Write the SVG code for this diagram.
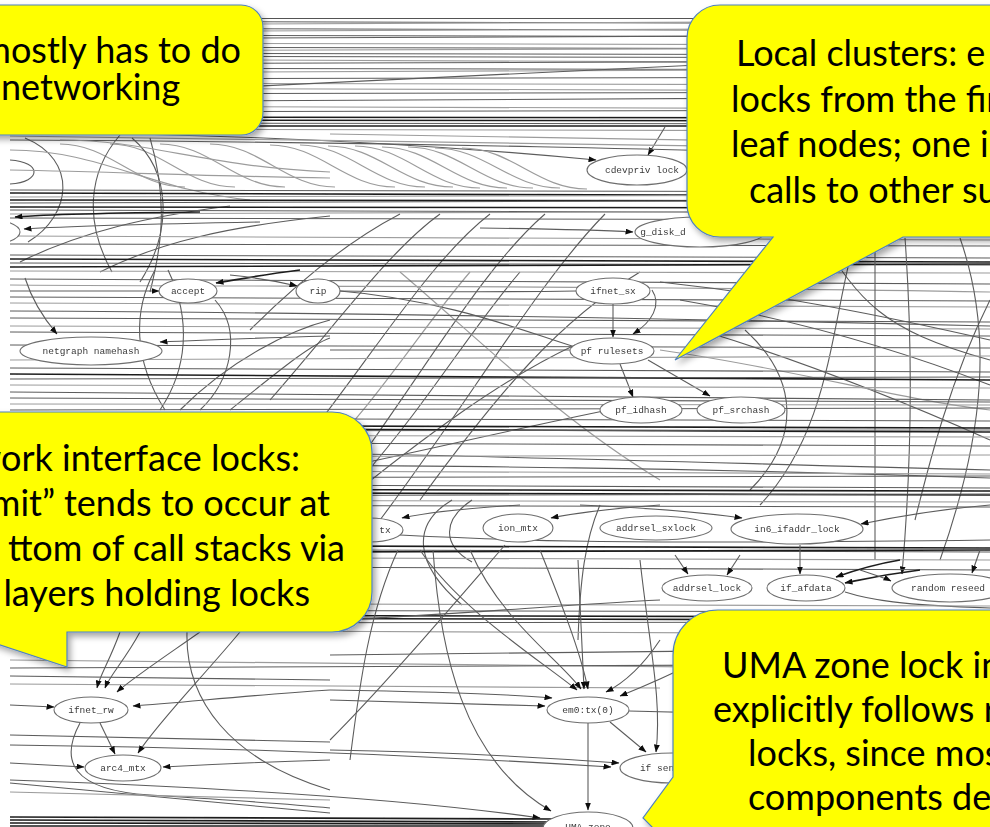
<svg xmlns="http://www.w3.org/2000/svg" width="990" height="827" viewBox="0 0 990 827">
<style>
  .e{fill:none;stroke:#5c5c5c;stroke-width:1.1}
  .l{fill:none;stroke:#9c9c9c;stroke-width:1.2}
  .d{fill:none;stroke:#1e1e1e;stroke-width:1.7}
  .a{marker-end:url(#ah)}
  .n ellipse{fill:#fff;stroke:#6e6e6e;stroke-width:1.1}
  .n text{font-family:"Liberation Mono","DejaVu Sans Mono",monospace;font-size:9.5px;fill:#3a3a3a;text-anchor:middle}
  .co{fill:#ffff00;stroke:#4f81bd;stroke-width:1.2}
  .ct{font-family:Lato,"Open Sans",sans-serif;font-size:36px;fill:#000}
</style>
<defs>
  <marker id="ah" markerWidth="8" markerHeight="6" refX="7.5" refY="3" orient="auto" markerUnits="userSpaceOnUse">
    <path d="M0,0L8,3L0,6z" fill="#111"/>
  </marker>
  <clipPath id="gc"><rect x="10" y="17" width="980" height="810"/></clipPath>
  <filter id="soft" x="0" y="0" width="100%" height="100%"><feGaussianBlur stdDeviation="0.45"/></filter>
  <filter id="sh" x="-10%" y="-10%" width="130%" height="140%">
    <feDropShadow dx="3" dy="4" stdDeviation="3" flood-color="#000" flood-opacity="0.35"/>
  </filter>
</defs>

<rect width="990" height="827" fill="#fff"/>

<g clip-path="url(#gc)">
<g filter="url(#soft)">
<!-- call-graph edges -->
<g id="edges">
  <!-- upper band of long edges -->
  <path class="d" d="M10,18H990"/>
  <path class="e" d="M10,21L990,24"/>
  <path class="l" d="M10,25L990,21"/>
  <path class="e" d="M10,28L990,31"/>
  <path class="l" d="M10,32L990,28"/>
  <path class="e" d="M10,35L990,37"/>
  <path class="e" d="M10,39L990,35"/>
  <path class="l" d="M10,43L990,45"/>
  <path class="e" d="M10,47L990,49"/>
  <path class="l" d="M10,51L990,48"/>
  <path class="e" d="M10,53L990,55"/>
  <path class="e" d="M10,56L990,58"/>
  <path class="l" d="M10,59L990,63"/>
  <path class="e" d="M10,64L990,61"/>
  <path class="e" d="M10,68L990,70"/>
  <path class="l" d="M10,73L990,69"/>
  <path class="e" d="M10,79L990,77"/>
  <path class="l" d="M10,83L990,85"/>
  <path class="e" d="M10,98L990,51"/>
  <path class="l" d="M10,88L990,91"/>
  <path class="e" d="M10,94L990,92"/>
  <path class="e" d="M10,102L990,97"/>
  <path class="l" d="M10,106L990,109"/>
  <path class="e" d="M10,112L990,110"/>
  <path class="d" d="M10,117L990,118"/>
  <path class="d" d="M10,120L990,121"/>
  <path class="e" d="M10,123L990,124"/>
  <path class="d" d="M10,126H990"/>
  <path class="l" d="M10,129L990,131"/>

  <!-- into cdevpriv lock -->
  <path class="e a" d="M10,132C250,134 450,146 596,160"/>
  <path class="e a" d="M665,127L648,155"/>
  <path class="l" d="M10,136L990,150"/>
  <path class="e" d="M10,140C400,142 700,150 990,158"/>
  <path class="l" d="M330,134C500,136 800,142 990,146"/>

  <!-- family of S-shaped edges -->
  <path class="l" d="M60,144C110,144 135,187 185,187"/>
  <path class="l" d="M110,144C160,144 185,187 235,187"/>
  <path class="l" d="M160,144C210,144 235,187 285,187"/>
  <path class="l" d="M210,144C260,144 285,187 335,187"/>
  <path class="l" d="M270,145C320,145 345,187 395,187"/>
  <path class="l" d="M300,145C350,145 375,187 425,187"/>
  <path class="l" d="M328,146C378,146 403,187 453,187"/>
  <path class="l" d="M355,146C405,146 430,188 480,188"/>
  <path class="l" d="M382,147C432,147 457,188 507,188"/>
  <path class="l" d="M408,147C458,147 483,188 533,188"/>
  <path class="l" d="M435,148C485,148 510,188 560,188"/>
  <path class="l" d="M462,148C512,148 537,189 587,189"/>

  <!-- left-hand arcs -->
  <path class="e" d="M10,160C42,162 42,182 10,184"/>
  <path class="e" d="M25,138C78,160 72,215 28,242"/>
  <path class="e" d="M120,135C88,172 84,222 112,272"/>
  <path class="e" d="M132,138C172,172 172,232 140,282"/>
  <path class="e" d="M150,138C168,200 162,245 150,292"/>
  <path class="l" d="M10,150C100,150 150,190 250,200"/>
  <path class="l" d="M60,140C150,140 200,166 330,172"/>
  <path class="e" d="M20,262C80,232 150,216 230,206"/>
  <path class="e" d="M100,272C160,242 230,226 330,216"/>
  <path class="l" d="M10,170C120,172 200,176 330,178"/>

  <!-- middle band -->
  <path class="e" d="M10,190L990,192"/>
  <path class="d" d="M10,193L990,196"/>
  <path class="l" d="M10,197L990,195"/>
  <path class="d" d="M10,200L990,201"/>
  <path class="e" d="M10,203L990,200"/>
  <path class="d" d="M10,207L990,208"/>
  <path class="e" d="M10,210L990,213"/>
  <path class="l" d="M10,214L990,211"/>
  <path class="e" d="M10,218L990,220"/>

  <!-- into the node cut at the left margin and into g_disk -->
  <path class="e a" d="M260,222C150,224 70,226 24,229"/>
  <path class="d a" d="M200,212C100,213 40,215 15,217"/>
  <path class="e a" d="M480,228C560,229 600,230 633,232"/>
  <path class="l" d="M10,236L990,240"/>
  <path class="e" d="M10,244L990,246"/>

  <!-- long rising diagonals -->
  <path class="e" d="M250,330C300,280 350,240 400,214"/>
  <path class="e" d="M270,400C340,320 390,250 440,214"/>
  <path class="e" d="M290,460C370,360 430,260 490,214"/>
  <path class="e" d="M330,500C420,380 480,270 545,214"/>
  <path class="e" d="M380,520C470,400 540,280 605,214"/>
  <path class="e" d="M420,500C500,390 560,320 640,272"/>
  <path class="e" d="M340,505C420,440 500,380 575,345"/>
  <path class="e" d="M360,480C430,400 470,330 520,272"/>
  <path class="l" d="M300,480C380,400 420,330 470,272"/>
  <path class="e" d="M330,290C450,300 520,330 572,346"/>
  <path class="e" d="M330,350H570"/>
  <path class="e" d="M330,470C430,450 550,420 660,400"/>
  <path class="l" d="M400,272C480,340 560,420 660,480"/>

  <!-- band above the accept row -->
  <path class="e" d="M10,255L990,258"/>
  <path class="d" d="M10,259L990,262"/>
  <path class="e" d="M10,263L990,265"/>
  <path class="d" d="M10,267L990,264"/>
  <path class="l" d="M10,271L990,273"/>

  <!-- accept / rip / ifnet_sx row -->
  <path class="e" d="M10,279L990,284"/>
  <path class="l" d="M10,285C300,287 600,285 990,292"/>
  <path class="e" d="M10,297L990,301"/>
  <path class="l" d="M10,303L990,307"/>
  <path class="e" d="M10,311C400,313 700,319 990,326"/>
  <path class="e" d="M10,318L990,322"/>
  <path class="l" d="M10,326L990,329"/>
  <path class="e" d="M10,332L990,336"/>
  <path class="e a" d="M10,291H159"/>
  <path class="d a" d="M300,270C260,275 235,280 216,283"/>
  <path class="e a" d="M230,275C260,278 280,282 297,286"/>
  <path class="e" d="M340,291C450,292 520,292 576,291"/>
  <path class="e a" d="M613,304V337"/>
  <path class="e a" d="M652,290C662,305 652,322 633,334"/>
  <path class="e a" d="M620,364L633,397"/>
  <path class="e a" d="M648,360L710,396"/>

  <!-- around netgraph namehash -->
  <path class="e a" d="M25,278C32,300 45,320 57,334"/>
  <path class="e a" d="M330,336C260,338 200,340 160,342"/>
  <path class="e" d="M155,270C133,310 133,360 165,410"/>
  <path class="e" d="M168,270C192,320 187,370 160,410"/>
  <path class="e" d="M215,300C242,330 232,380 200,410"/>
  <path class="e" d="M180,410C230,360 290,330 330,320"/>
  <path class="e" d="M230,410C280,370 310,345 330,338"/>

  <!-- right side, upper part -->
  <path class="e" d="M660,282C780,295 880,315 990,340"/>
  <path class="e" d="M680,300C800,320 900,350 990,385"/>
  <path class="e" d="M700,330C800,360 900,400 990,440"/>
  <path class="l" d="M660,350C800,370 900,400 990,410"/>
  <path class="e" d="M875,238V560"/>
  <path class="e a" d="M905,238C913,350 912,460 902,574"/>
  <path class="e" d="M745,330C800,380 800,440 750,490"/>
  <path class="e" d="M855,238C830,330 830,430 760,505"/>
  <path class="e" d="M960,238C992,330 986,430 940,560"/>
  <path class="e" d="M990,300C950,380 930,460 915,520"/>
  <path class="e" d="M820,238C860,300 880,330 990,360"/>

  <!-- middle horizontals -->
  <path class="e" d="M10,345L990,348"/>
  <path class="l" d="M10,360L990,356"/>
  <path class="e" d="M10,368L990,372"/>
  <path class="d" d="M10,374L990,380"/>
  <path class="e" d="M10,379L990,377"/>
  <path class="l" d="M10,385L990,388"/>
  <path class="e" d="M10,392C400,395 700,398 990,400"/>
  <path class="e" d="M10,398L990,402"/>
  <path class="l" d="M10,404L990,405"/>
  <path class="e" d="M10,410L990,408"/>
  <path class="e" d="M10,418L990,421"/>
  <path class="d" d="M10,425L990,428"/>
  <path class="d" d="M10,428L990,432"/>
  <path class="e" d="M10,431L990,430"/>
  <path class="l" d="M10,435L990,437"/>
  <path class="e" d="M10,442L990,446"/>
  <path class="e" d="M10,450C400,452 600,460 990,470"/>
  <path class="l" d="M10,457L990,455"/>
  <path class="e" d="M10,463C500,466 700,468 990,478"/>
  <path class="l" d="M10,470L990,474"/>
  <path class="e" d="M10,478L990,476"/>
  <path class="e" d="M10,484L990,488"/>
  <path class="d" d="M10,489L990,491"/>
  <path class="d" d="M10,492L990,495"/>
  <path class="e" d="M10,496L990,494"/>
  <path class="l" d="M10,500L990,502"/>
  <path class="e" d="M10,505L990,507"/>

  <!-- mtx / ion_mtx / addrsel_sxlock / in6_ifaddr_lock row -->
  <path class="e a" d="M520,505C470,508 430,512 402,518"/>
  <path class="e a" d="M660,505C620,508 580,512 551,518"/>
  <path class="e a" d="M580,505C650,508 700,512 742,518"/>
  <path class="e a" d="M990,505C930,510 890,518 861,524"/>
  <path class="e" d="M472,500C442,520 442,545 472,562"/>
  <path class="e" d="M452,500C410,525 415,565 462,605"/>
  <path class="e" d="M600,505C585,540 580,580 578,640"/>
  <path class="e" d="M400,535C500,540 600,545 990,540"/>

  <path class="d" d="M10,545L990,548"/>
  <path class="e" d="M10,549L990,552"/>
  <path class="d" d="M10,553L990,550"/>
  <path class="l" d="M10,557L990,560"/>
  <path class="e" d="M10,566L990,570"/>

  <!-- addrsel_lock / if_afdata / random reseed row -->
  <path class="e a" d="M675,555L688,574"/>
  <path class="e a" d="M740,555L727,575"/>
  <path class="e a" d="M800,545V574"/>
  <path class="d a" d="M900,560C870,565 850,572 836,577"/>
  <path class="d a" d="M920,570C880,575 860,580 845,583"/>
  <path class="e a" d="M860,570C875,575 885,578 891,581"/>
  <path class="e a" d="M980,550L972,573"/>
  <path class="e" d="M845,592C870,600 900,605 990,608"/>

  <path class="l" d="M10,603L990,606"/>
  <path class="e" d="M10,610L990,612"/>
  <path class="d" d="M10,615L990,617"/>
  <path class="d" d="M10,618L990,620"/>
  <path class="e" d="M10,623L990,622"/>
  <path class="l" d="M10,630L990,634"/>
  <path class="e" d="M330,655L990,648"/>
  <path class="l" d="M10,660C300,662 600,664 990,670"/>
  <path class="e" d="M10,668L990,664"/>
  <path class="e" d="M10,676L330,680"/>
  <path class="l" d="M10,684L660,688"/>

  <!-- into em0:tx(0) -->
  <path class="e a" d="M420,550C460,610 540,660 577,690"/>
  <path class="e a" d="M470,550C500,620 560,660 581,689"/>
  <path class="e a" d="M578,560C580,600 582,650 584,689"/>
  <path class="e a" d="M540,550C560,600 580,650 588,689"/>
  <path class="e a" d="M660,640C640,670 620,685 606,692"/>
  <path class="e a" d="M700,660C660,680 635,690 620,696"/>
  <path class="e a" d="M330,700L545,706"/>
  <path class="e a" d="M330,690C450,692 520,695 552,698"/>
  <path class="e" d="M629,711L990,720"/>

  <!-- other curves of the lower middle -->
  <path class="e" d="M398,550C370,610 360,680 350,760"/>
  <path class="e" d="M505,545C440,620 380,690 330,740"/>
  <path class="e a" d="M433,550C440,650 462,760 551,811"/>
  <path class="e a" d="M610,722L646,752"/>
  <path class="e a" d="M640,560C650,650 662,700 656,752"/>
  <path class="e a" d="M330,750C450,752 550,758 619,763"/>
  <path class="e a" d="M10,745C300,748 500,760 611,767"/>
  <path class="e a" d="M588,723V810"/>
  <path class="e a" d="M10,780C300,790 450,805 540,818"/>
  <path class="e" d="M330,620C450,615 560,605 660,600"/>

  <!-- ifnet_rw / arc4_mtx -->
  <path class="e a" d="M120,632C110,660 100,675 97,688"/>
  <path class="e a" d="M140,632C125,660 110,675 105,688"/>
  <path class="e a" d="M200,632C160,660 130,680 117,692"/>
  <path class="e a" d="M10,705L54,707"/>
  <path class="e a" d="M330,690C250,695 180,703 133,706"/>
  <path class="e a" d="M100,723L115,754"/>
  <path class="e a" d="M240,632C200,680 160,720 138,753"/>
  <path class="e a" d="M10,763L84,767"/>
  <path class="e a" d="M330,760C260,762 200,765 163,767"/>
  <path class="e" d="M80,723C60,760 70,790 150,795C230,800 300,805 330,808"/>
  <path class="e" d="M187,632C185,700 230,760 330,790"/>
  <path class="e" d="M10,735L330,742"/>
  <path class="e" d="M10,783L330,813"/>
  <path class="l" d="M10,792L330,800"/>

  <!-- bottom band -->
  <path class="d" d="M10,817L560,819"/>
  <path class="d" d="M10,820L560,822"/>
  <path class="d" d="M10,823L560,824"/>
  <path class="d" d="M10,826H560"/>
</g>

<!-- lock nodes -->
<g id="n-left" class="n"><ellipse cx="-15" cy="232" rx="35" ry="13"/></g>
<g id="n-cdevpriv" class="n"><ellipse cx="637" cy="170" rx="50" ry="15"/><text x="642" y="173">cdevpriv lock</text></g>
<g id="n-gdisk" class="n"><ellipse cx="700" cy="232" rx="65" ry="15"/><text x="663" y="235">g_disk_d</text></g>
<g id="n-accept" class="n"><ellipse cx="188" cy="291" rx="29" ry="12"/><text x="188" y="294">accept</text></g>
<g id="n-rip" class="n"><ellipse cx="318" cy="291" rx="22" ry="12"/><text x="318" y="294">rip</text></g>
<g id="n-ifnet-sx" class="n"><ellipse cx="613" cy="291" rx="37" ry="13"/><text x="613" y="294">ifnet_sx</text></g>
<g id="n-netgraph" class="n"><ellipse cx="91" cy="351" rx="71" ry="14"/><text x="91" y="354">netgraph namehash</text></g>
<g id="n-pf-rulesets" class="n"><ellipse cx="612" cy="351" rx="42" ry="13"/><text x="612" y="354">pf rulesets</text></g>
<g id="n-pf-idhash" class="n"><ellipse cx="641" cy="410" rx="41" ry="13"/><text x="641" y="413">pf_idhash</text></g>
<g id="n-pf-srchash" class="n"><ellipse cx="741" cy="410" rx="44" ry="13"/><text x="741" y="413">pf_srchash</text></g>
<g id="n-mtx" class="n"><ellipse cx="370" cy="530" rx="33" ry="12"/><text x="385" y="533">tx</text></g>
<g id="n-ion-mtx" class="n"><ellipse cx="518" cy="528" rx="35" ry="14"/><text x="518" y="531">ion_mtx</text></g>
<g id="n-addrsel-sx" class="n"><ellipse cx="656" cy="528" rx="56" ry="12"/><text x="656" y="531">addrsel_sxlock</text></g>
<g id="n-in6" class="n"><ellipse cx="797" cy="529" rx="66" ry="15"/><text x="797" y="532">in6_ifaddr_lock</text></g>
<g id="n-addrsel" class="n"><ellipse cx="707" cy="588" rx="45" ry="13"/><text x="707" y="591">addrsel_lock</text></g>
<g id="n-if-afdata" class="n"><ellipse cx="806" cy="588" rx="39" ry="13"/><text x="806" y="591">if_afdata</text></g>
<g id="n-random" class="n"><ellipse cx="950" cy="588" rx="58" ry="14"/><text x="948" y="591">random reseed</text></g>
<g id="n-ifnet-rw" class="n"><ellipse cx="91" cy="710" rx="37" ry="13"/><text x="91" y="713">ifnet_rw</text></g>
<g id="n-arc4" class="n"><ellipse cx="123" cy="768" rx="38" ry="13"/><text x="123" y="771">arc4_mtx</text></g>
<g id="n-em0" class="n"><ellipse cx="588" cy="710" rx="41" ry="13"/><text x="588" y="713">em0:tx(0)</text></g>
<g id="n-ifsend" class="n"><ellipse cx="672" cy="768" rx="52" ry="15"/><text x="657" y="771">if sen</text></g>
<g id="n-uma" class="n"><ellipse cx="588" cy="828" rx="45" ry="16"/><text x="588" y="830">UMA zone</text></g>
</g>
</g>

<!-- annotation callouts -->
<g id="callout-networking">
  <rect class="co" filter="url(#sh)" x="-40" y="5" width="303" height="130" rx="22"/>
  <text class="ct" x="241" y="63" text-anchor="end">mostly has to do</text>
  <text class="ct" x="1" y="100">networking</text>
</g>
<g id="callout-clusters">
  <path class="co" filter="url(#sh)" d="M720,5H1040V237H903L675,360L773,237H720A33,33 0 0 1 687,204V38A33,33 0 0 1 720,5Z"/>
  <text class="ct" x="736" y="66">Local clusters: e</text>
  <text class="ct" x="731" y="112">locks from the fir</text>
  <text class="ct" x="731" y="157">leaf nodes; one i</text>
  <text class="ct" x="749" y="203">calls to other su</text>
</g>
<g id="callout-interfaces">
  <path class="co" filter="url(#sh)" d="M-40,412H332A40,40 0 0 1 372,452V592A40,40 0 0 1 332,632H67V667L-39,632H-40Z"/>
  <text class="ct" x="300" y="471" text-anchor="end">work interface locks:</text>
  <text class="ct" x="330" y="516" text-anchor="end">mit” tends to occur at</text>
  <text class="ct" x="345" y="561" text-anchor="end">ttom of call stacks via</text>
  <text class="ct" x="310" y="606" text-anchor="end">layers holding locks</text>
</g>
<g id="callout-uma">
  <path class="co" filter="url(#sh)" d="M718,610H1040V870H695L643,818L673,777V655A45,45 0 0 1 718,610Z"/>
  <text class="ct" x="722" y="678">UMA zone lock in</text>
  <text class="ct" x="713" y="722">explicitly follows r</text>
  <text class="ct" x="748" y="766">locks, since mos</text>
  <text class="ct" x="748" y="810">components de</text>
</g>
</svg>
